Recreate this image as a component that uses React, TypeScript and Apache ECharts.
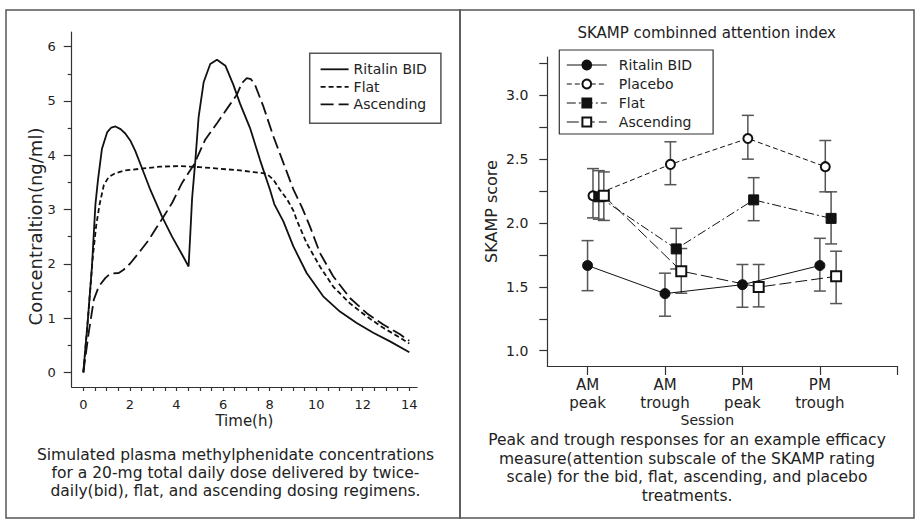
import React, { useEffect, useRef } from 'react';
import * as echarts from 'echarts';

const FONT = '"DejaVu Sans", sans-serif';
const TEXT = '#222';
const AXIS = '#333';

// ---------- Left panel: simulated plasma concentrations (time h, ng/ml) ----------
const bidCurve: [number, number][] = [
  [0, 0], [0.2, 1.0], [0.37, 1.95], [0.52, 3.1], [0.63, 3.55], [0.8, 4.12], [1.02, 4.42],
  [1.2, 4.51], [1.38, 4.53], [1.6, 4.48], [1.8, 4.4], [2.03, 4.26], [2.23, 4.08], [2.52, 3.76],
  [2.88, 3.36], [3.38, 2.87], [3.81, 2.5], [4.24, 2.17], [4.52, 1.95], [4.6, 2.6], [4.67, 3.2],
  [4.81, 3.9], [4.95, 4.7], [5.17, 5.35], [5.45, 5.68], [5.74, 5.76], [6.1, 5.65], [6.44, 5.3],
  [6.73, 4.95], [7.16, 4.5], [7.59, 3.91], [8.02, 3.36], [8.2, 3.1], [8.59, 2.78], [9.02, 2.32],
  [9.59, 1.83], [10.3, 1.4], [11.02, 1.12], [11.74, 0.91], [12.45, 0.73], [13.17, 0.57], [14, 0.37],
];
const flatCurve: [number, number][] = [
  [0, 0], [0.2, 1.0], [0.4, 2.1], [0.55, 2.7], [0.7, 3.1], [0.88, 3.45], [1.09, 3.6], [1.38, 3.67],
  [1.8, 3.72], [2.44, 3.75], [3.3, 3.79], [4.16, 3.8], [5.02, 3.78], [5.88, 3.75], [6.73, 3.72],
  [7.3, 3.69], [7.87, 3.66], [8.16, 3.55], [8.45, 3.36], [8.76, 3.18], [9.02, 2.98], [9.16, 2.81],
  [9.59, 2.38], [10.16, 1.95], [10.73, 1.58], [11.45, 1.27], [12.17, 1.03], [12.88, 0.82],
  [13.6, 0.64], [14, 0.53],
];
const ascendingCurve: [number, number][] = [
  [0, 0], [0.23, 0.73], [0.45, 1.34], [0.66, 1.58], [0.95, 1.74], [1.16, 1.82], [1.52, 1.83],
  [1.73, 1.89], [2.02, 2.01], [2.38, 2.2], [2.81, 2.44], [3.09, 2.63], [3.45, 2.87], [3.81, 3.12],
  [4.24, 3.49], [4.74, 3.82], [5.24, 4.29], [5.74, 4.59], [6.24, 4.9], [6.6, 5.12], [6.81, 5.33],
  [7.02, 5.42], [7.2, 5.4], [7.37, 5.3], [7.73, 4.9], [8.16, 4.35], [8.59, 3.86], [9.02, 3.37],
  [9.38, 3.05], [9.73, 2.69], [10.16, 2.2], [10.73, 1.77], [11.45, 1.37], [12.17, 1.09],
  [12.88, 0.88], [13.6, 0.7], [14, 0.58],
];
const timeTickLabels = [0, 2, 4, 6, 8, 10, 12, 14];
const concTickLabels = [0, 1, 2, 3, 4, 5, 6];

// ---------- Right panel: SKAMP scores ----------
const sessions = ['AM\npeak', 'AM\ntrough', 'PM\npeak', 'PM\ntrough'];
const bidScore = [1.667, 1.447, 1.517, 1.667];
const bidLow = [1.47, 1.27, 1.34, 1.467];
const bidHigh = [1.862, 1.607, 1.675, 1.88];
const placeboScore = [2.213, 2.459, 2.662, 2.441];
const placeboLow = [2.04, 2.3, 2.5, 2.244];
const placeboHigh = [2.426, 2.636, 2.843, 2.646];
const flatScore = [2.205, 1.797, 2.181, 2.036];
const flatLow = [2.03, 1.64, 2.018, 1.836];
const flatHigh = [2.41, 1.958, 2.355, 2.244];
const ascScore = [2.213, 1.623, 1.498, 1.582];
const ascLow = [2.02, 1.45, 1.343, 1.369];
const ascHigh = [2.4, 1.8, 1.675, 1.779];
const scoreTickLabels = [1.0, 1.5, 2.0, 2.5, 3.0];

const leftCaption =
  'Simulated plasma methylphenidate concentrations\nfor a 20-mg total daily dose delivered by twice-\ndaily(bid), flat, and ascending dosing regimens.';
const rightCaption =
  'Peak and trough responses for an example efficacy\nmeasure(attention subscale of the SKAMP rating\nscale) for the bid, flat, ascending, and placebo\ntreatments.';

function steps(from: number, to: number, step: number): number[] {
  const out: number[] = [];
  for (let v = from; v <= to + 1e-9; v += step) out.push(Math.round(v * 100) / 100);
  return out;
}

function buildOption() {
  // horizontal dodge of each treatment within a session
  const dodge = { bid: 0, placebo: 0.07, flat: 0.145, asc: 0.21 };
  const pts = (vals: number[], off: number) => vals.map((v, i) => [i + 1 + off, v]);
  const errs = (lo: number[], hi: number[], off: number) => lo.map((l, i) => [i + 1 + off, l, hi[i]]);

  const errorSeries = (lo: number[], hi: number[], off: number) => ({
    type: 'custom',
    xAxisIndex: 1,
    yAxisIndex: 2,
    silent: true,
    z: 1,
    data: errs(lo, hi, off),
    encode: { x: 0, y: [1, 2] },
    renderItem: (_p: any, api: any) => {
      const x = api.value(0);
      const a = api.coord([x, api.value(1)]);
      const b = api.coord([x, api.value(2)]);
      const hw = 6;
      const st = { stroke: '#555', lineWidth: 1.5 };
      return {
        type: 'group',
        children: [
          { type: 'line', shape: { x1: a[0], y1: a[1], x2: b[0], y2: b[1] }, style: st },
          { type: 'line', shape: { x1: a[0] - hw, y1: a[1], x2: a[0] + hw, y2: a[1] }, style: st },
          { type: 'line', shape: { x1: b[0] - hw, y1: b[1], x2: b[0] + hw, y2: b[1] }, style: st },
        ],
      };
    },
  });

  const leftLine = (name: string, data: [number, number][], type: any) => ({
    name,
    type: 'line',
    xAxisIndex: 0,
    yAxisIndex: 0,
    data,
    symbol: 'none',
    lineStyle: { color: '#111', width: 1.8, type },
    itemStyle: { color: '#111' },
  });

  const rightLine = (name: string, data: number[][], symbol: string, size: number, type: any) => ({
    name,
    type: 'line',
    xAxisIndex: 1,
    yAxisIndex: 2,
    data,
    symbol,
    symbolSize: size,
    showSymbol: true,
    z: 3,
    lineStyle: { color: '#111', width: 1, type },
    itemStyle: { color: '#111', borderColor: '#111', borderWidth: 1 },
  });

  const axisText = (size: number) => ({ fontFamily: FONT, color: TEXT, fontSize: size });
  const axLine = { show: true, onZero: false, lineStyle: { color: AXIS, width: 1.2 } };
  const tickStyle = { color: AXIS, width: 1.2 };

  return {
    animation: false,
    backgroundColor: '#ffffff',
    textStyle: { fontFamily: FONT, color: TEXT },
    title: {
      text: 'SKAMP combinned attention index',
      left: 706.7,
      top: 25,
      padding: 0,
      textAlign: 'center',
      textStyle: { fontFamily: FONT, fontSize: 15, fontWeight: 'normal', color: TEXT },
    },
    grid: [
      { left: 71.7, top: 32, width: 345.3, height: 355 },
      { left: 547.3, top: 57, width: 350, height: 309 },
    ],
    xAxis: [
      {
        type: 'value',
        gridIndex: 0,
        position: 'bottom',
        min: -0.5,
        max: 14.33,
        name: 'Time(h)',
        nameLocation: 'middle',
        nameGap: 26,
        nameMoveOverlap: false,
        nameTextStyle: axisText(15),
        axisLine: axLine,
        axisTick: { show: true, length: 4, customValues: steps(0, 14, 0.5), lineStyle: tickStyle },
        axisLabel: { customValues: timeTickLabels, margin: 11, ...axisText(13) },
        splitLine: { show: false },
      },
      {
        type: 'value',
        gridIndex: 1,
        position: 'bottom',
        min: 0.48,
        max: 5,
        name: 'Session',
        nameLocation: 'middle',
        nameGap: 47,
        nameMoveOverlap: false,
        nameTextStyle: { ...axisText(14), padding: [0, 30, 0, 0] },
        axisLine: axLine,
        axisTick: { show: true, length: 9, customValues: [1, 2, 3, 4, 5], lineStyle: tickStyle },
        axisLabel: {
          customValues: [1, 2, 3, 4],
          formatter: (v: number) => sessions[Math.round(v) - 1] ?? '',
          margin: 10,
          lineHeight: 18,
          ...axisText(15),
        },
        splitLine: { show: false },
      },
    ],
    yAxis: [
      {
        type: 'value',
        gridIndex: 0,
        position: 'left',
        min: -0.27,
        max: 6.27,
        axisLine: axLine,
        axisTick: { show: true, length: 8, customValues: concTickLabels, lineStyle: tickStyle },
        axisLabel: { customValues: concTickLabels, margin: 16, ...axisText(13) },
        splitLine: { show: false },
      },
      {
        type: 'value',
        gridIndex: 0,
        position: 'left',
        offset: 0,
        min: -0.27,
        max: 6.27,
        axisLine: { show: false, onZero: false },
        axisTick: { show: true, length: 4, customValues: steps(0.5, 5.5, 1), lineStyle: tickStyle },
        axisLabel: { show: false },
        splitLine: { show: false },
      },
      {
        type: 'value',
        gridIndex: 1,
        position: 'left',
        min: 0.88,
        max: 3.3,
        name: 'SKAMP score',
        nameLocation: 'middle',
        nameGap: 48,
        nameMoveOverlap: false,
        nameTextStyle: axisText(16),
        axisLine: axLine,
        axisTick: { show: true, length: 8, customValues: steps(1, 3.25, 0.25), lineStyle: tickStyle },
        axisLabel: {
          customValues: scoreTickLabels,
          formatter: (v: number) => v.toFixed(1),
          margin: 19,
          ...axisText(14),
        },
        splitLine: { show: false },
      },
    ],
    legend: [
      {
        data: ['Ritalin BID', 'Flat', 'Ascending'],
        orient: 'vertical',
        left: 309.7,
        top: 53.3,
        padding: [9, 14, 12, 10],
        itemWidth: 28,
        itemHeight: 14,
        itemGap: 3.5,
        borderColor: '#555',
        borderWidth: 1.5,
        selectedMode: false,
        itemStyle: { opacity: 0 },
        lineStyle: { width: 1.8 },
        textStyle: { fontFamily: FONT, fontSize: 14, color: TEXT },
      },
      {
        data: ['r:Ritalin BID', 'r:Placebo', 'r:Flat', 'r:Ascending'],
        formatter: (n: string) => n.replace(/^r:/, ''),
        orient: 'vertical',
        left: 559.3,
        top: 50,
        padding: [8, 21, 5, 7],
        itemWidth: 40,
        itemHeight: 11,
        itemGap: 5,
        borderColor: '#333',
        borderWidth: 1.2,
        selectedMode: false,
        lineStyle: { width: 1 },
        textStyle: { fontFamily: FONT, fontSize: 14, color: TEXT, padding: [0, 0, 0, 7] },
      },
    ],
    graphic: [
      { type: 'rect', shape: { x: 6, y: 10, width: 454, height: 508 }, style: { fill: 'none', stroke: '#555', lineWidth: 1.5 }, silent: true },
      { type: 'rect', shape: { x: 460, y: 10, width: 454, height: 508 }, style: { fill: 'none', stroke: '#555', lineWidth: 1.5 }, silent: true },
      {
        type: 'text',
        x: 35.5,
        y: 226.5,
        rotation: Math.PI / 2,
        style: { text: 'Concentraltion(ng/ml)', font: `18px ${FONT}`, fill: TEXT, align: 'center', verticalAlign: 'middle' },
        silent: true,
      },
      {
        type: 'text',
        x: 235.5,
        y: 473,
        style: { text: leftCaption, font: `15.5px ${FONT}`, fill: TEXT, align: 'center', verticalAlign: 'middle', lineHeight: 17.8 },
        silent: true,
      },
      {
        type: 'text',
        x: 687,
        y: 468,
        style: { text: rightCaption, font: `15.5px ${FONT}`, fill: TEXT, align: 'center', verticalAlign: 'middle', lineHeight: 18.7 },
        silent: true,
      },
    ],
    series: [
      leftLine('Ritalin BID', bidCurve, 'solid'),
      leftLine('Flat', flatCurve, [5, 3]),
      leftLine('Ascending', ascendingCurve, [13, 5]),
      errorSeries(bidLow, bidHigh, dodge.bid),
      errorSeries(placeboLow, placeboHigh, dodge.placebo),
      errorSeries(flatLow, flatHigh, dodge.flat),
      errorSeries(ascLow, ascHigh, dodge.asc),
      rightLine('r:Ritalin BID', pts(bidScore, dodge.bid), 'circle', 10, 'solid'),
      rightLine('r:Placebo', pts(placeboScore, dodge.placebo), 'emptyCircle', 9, [5, 3]),
      rightLine('r:Flat', pts(flatScore, dodge.flat), 'rect', 10, [9, 3, 2, 3]),
      rightLine('r:Ascending', pts(ascScore, dodge.asc), 'emptyRect', 10, [12, 4]),
    ],
  };
}

export default function App() {
  const ref = useRef<HTMLDivElement>(null);
  useEffect(() => {
    document.body.style.margin = '0';
    if (!ref.current) return;
    const chart = echarts.init(ref.current, null, { renderer: 'svg' });
    chart.setOption(buildOption() as any);
    return () => chart.dispose();
  }, []);
  return <div ref={ref} style={{ width: 920, height: 529, background: '#fff' }} />;
}
